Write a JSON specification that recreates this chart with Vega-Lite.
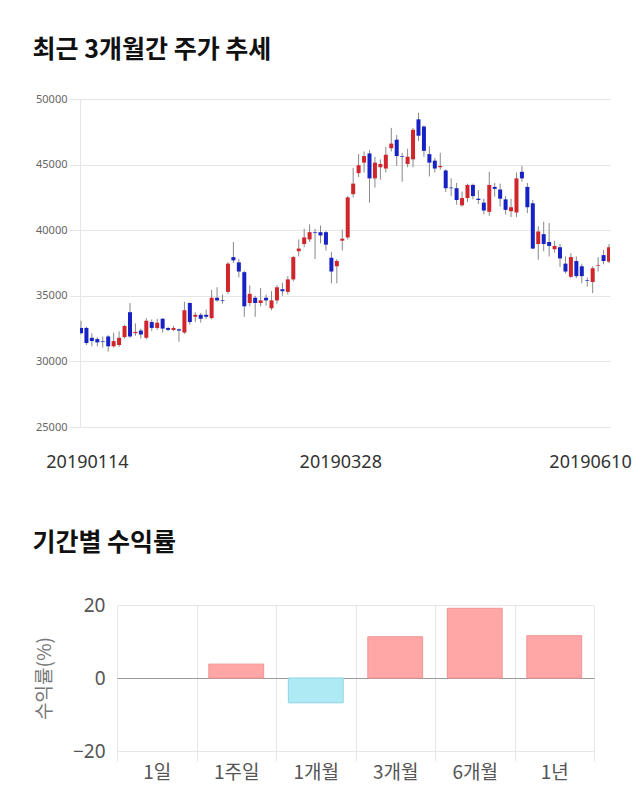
{
"$schema": "https://vega.github.io/schema/vega-lite/v6.json",
"background": "white",
"padding": {"left": 32, "top": 38, "right": 0, "bottom": 0},
"config": {"view": {"stroke": null}, "font": "Noto Sans CJK KR"},
"spacing": 60,
"vconcat": [
{
"title": {"text": "최근 3개월간 주가 추세", "anchor": "start", "frame": "bounds", "fontSize": 25, "fontWeight": "bold", "color": "#111", "offset": 30, "font": "Noto Sans CJK KR", "dx": -3},
"width": 530, "height": 328,
"data": {"values": [
{"date":"20190114","open":32550,"close":32150,"high":33100,"low":32050},
{"date":"20190115","open":32550,"close":31400,"high":32650,"low":31250},
{"date":"20190116","open":31800,"close":31550,"high":32150,"low":31150},
{"date":"20190117","open":31700,"close":31450,"high":31850,"low":31150},
{"date":"20190118","open":31550,"close":31500,"high":31900,"low":31050},
{"date":"20190121","open":31900,"close":31150,"high":32000,"low":30750},
{"date":"20190122","open":31150,"close":31550,"high":32200,"low":31050},
{"date":"20190123","open":31250,"close":31800,"high":32300,"low":31100},
{"date":"20190124","open":31850,"close":32700,"high":32800,"low":31750},
{"date":"20190125","open":33750,"close":31900,"high":34450,"low":31800},
{"date":"20190128","open":32150,"close":32250,"high":32900,"low":31950},
{"date":"20190129","open":32350,"close":32050,"high":32500,"low":31750},
{"date":"20190130","open":31800,"close":33100,"high":33300,"low":31700},
{"date":"20190131","open":33000,"close":32550,"high":33200,"low":32300},
{"date":"20190207","open":32550,"close":32950,"high":33250,"low":32400},
{"date":"20190208","open":33250,"close":32500,"high":33300,"low":32200},
{"date":"20190211","open":32550,"close":32400,"high":32600,"low":32300},
{"date":"20190212","open":32400,"close":32550,"high":32700,"low":32300},
{"date":"20190213","open":32450,"close":32350,"high":32500,"low":31500},
{"date":"20190214","open":32200,"close":33900,"high":34550,"low":32100},
{"date":"20190215","open":34450,"close":33000,"high":34500,"low":32800},
{"date":"20190218","open":33400,"close":33550,"high":33750,"low":33000},
{"date":"20190219","open":33550,"close":33250,"high":33700,"low":32950},
{"date":"20190220","open":33550,"close":33400,"high":33950,"low":33250},
{"date":"20190221","open":33300,"close":34850,"high":35450,"low":33200},
{"date":"20190222","open":34850,"close":34650,"high":35650,"low":34550},
{"date":"20190225","open":34650,"close":34600,"high":35100,"low":34400},
{"date":"20190226","open":35300,"close":37450,"high":37550,"low":35150},
{"date":"20190227","open":37950,"close":37700,"high":39100,"low":37500},
{"date":"20190228","open":37550,"close":36850,"high":37800,"low":36400},
{"date":"20190304","open":36800,"close":34200,"high":36900,"low":33400},
{"date":"20190305","open":34450,"close":35150,"high":35800,"low":34200},
{"date":"20190306","open":34850,"close":34450,"high":35000,"low":33400},
{"date":"20190307","open":34450,"close":34650,"high":35600,"low":34200},
{"date":"20190308","open":34850,"close":34650,"high":35100,"low":34250},
{"date":"20190311","open":34050,"close":34650,"high":35350,"low":33900},
{"date":"20190312","open":34650,"close":35650,"high":35800,"low":34400},
{"date":"20190313","open":35500,"close":35350,"high":36000,"low":35000},
{"date":"20190314","open":35300,"close":36250,"high":36500,"low":35100},
{"date":"20190315","open":36250,"close":37950,"high":38050,"low":36100},
{"date":"20190318","open":38400,"close":38600,"high":39300,"low":38000},
{"date":"20190319","open":38950,"close":39450,"high":40100,"low":38700},
{"date":"20190320","open":39300,"close":39850,"high":40450,"low":39100},
{"date":"20190321","open":39850,"close":39800,"high":40100,"low":37800},
{"date":"20190322","open":39850,"close":39600,"high":40350,"low":39000},
{"date":"20190325","open":39850,"close":38900,"high":39950,"low":38450},
{"date":"20190326","open":37900,"close":36850,"high":38350,"low":35950},
{"date":"20190327","open":37250,"close":37650,"high":37800,"low":35950},
{"date":"20190328","open":39200,"close":39350,"high":40050,"low":38450},
{"date":"20190329","open":39450,"close":42500,"high":42600,"low":39300},
{"date":"20190401","open":42750,"close":43550,"high":44750,"low":42500},
{"date":"20190402","open":44350,"close":44950,"high":45800,"low":44050},
{"date":"20190403","open":45150,"close":45650,"high":46000,"low":44400},
{"date":"20190404","open":45850,"close":43950,"high":46100,"low":42100},
{"date":"20190405","open":43950,"close":45150,"high":45600,"low":43250},
{"date":"20190408","open":44800,"close":45050,"high":45400,"low":43850},
{"date":"20190409","open":44700,"close":45750,"high":46350,"low":44400},
{"date":"20190410","open":46250,"close":46600,"high":47800,"low":46000},
{"date":"20190411","open":46900,"close":45650,"high":47250,"low":44900},
{"date":"20190412","open":45650,"close":45600,"high":45900,"low":43700},
{"date":"20190415","open":45050,"close":45600,"high":46200,"low":44800},
{"date":"20190416","open":45400,"close":47650,"high":47800,"low":44800},
{"date":"20190417","open":48450,"close":47200,"high":48950,"low":46800},
{"date":"20190418","open":47900,"close":46050,"high":48000,"low":45600},
{"date":"20190419","open":45800,"close":45150,"high":46400,"low":44100},
{"date":"20190422","open":45300,"close":44700,"high":45500,"low":44400},
{"date":"20190423","open":44800,"close":44900,"high":45900,"low":44600},
{"date":"20190424","open":44550,"close":43200,"high":44650,"low":42900},
{"date":"20190425","open":43250,"close":43200,"high":43950,"low":42600},
{"date":"20190426","open":43200,"close":42300,"high":43600,"low":41950},
{"date":"20190429","open":41900,"close":42450,"high":42950,"low":41800},
{"date":"20190430","open":42450,"close":43450,"high":43550,"low":42150},
{"date":"20190502","open":43450,"close":42600,"high":43550,"low":42350},
{"date":"20190503","open":42400,"close":42300,"high":43050,"low":42000},
{"date":"20190507","open":42100,"close":41500,"high":42400,"low":41200},
{"date":"20190508","open":41400,"close":43450,"high":44450,"low":41100},
{"date":"20190509","open":43300,"close":43150,"high":43600,"low":42550},
{"date":"20190510","open":43100,"close":42400,"high":43550,"low":41800},
{"date":"20190513","open":42350,"close":41550,"high":42600,"low":41200},
{"date":"20190514","open":41450,"close":41750,"high":42400,"low":41000},
{"date":"20190515","open":41350,"close":43950,"high":44400,"low":41000},
{"date":"20190516","open":44450,"close":43950,"high":44900,"low":43700},
{"date":"20190517","open":43300,"close":41750,"high":43600,"low":41300},
{"date":"20190520","open":42050,"close":38600,"high":42300,"low":38550},
{"date":"20190521","open":38950,"close":39900,"high":40300,"low":37750},
{"date":"20190522","open":39700,"close":38950,"high":40650,"low":38400},
{"date":"20190523","open":39100,"close":38800,"high":40550,"low":38000},
{"date":"20190524","open":38550,"close":38800,"high":39200,"low":38300},
{"date":"20190527","open":38700,"close":37850,"high":38950,"low":37200},
{"date":"20190528","open":37450,"close":36850,"high":38000,"low":36700},
{"date":"20190529","open":36450,"close":37950,"high":38250,"low":36350},
{"date":"20190530","open":37650,"close":36500,"high":38000,"low":36350},
{"date":"20190531","open":37250,"close":36500,"high":37450,"low":35950},
{"date":"20190603","open":36200,"close":36150,"high":36400,"low":35700},
{"date":"20190604","open":36050,"close":37100,"high":37250,"low":35200},
{"date":"20190605","open":37300,"close":37350,"high":37950,"low":36850},
{"date":"20190607","open":38100,"close":37650,"high":38500,"low":37400},
{"date":"20190610","open":37600,"close":38700,"high":38950,"low":37500}
]},
"encoding": {
"x": {"field": "date", "type": "ordinal", "scale": {"type": "point", "padding": 0.18},
"axis": {"title": null, "values": ["20190114", "20190328", "20190610"], "labelAngle": 0, "ticks": false, "domain": false, "grid": false, "labelFontSize": 18, "labelColor": "#333", "labelPadding": 26, "labelFont": "Noto Sans",
"labelOffset": {"condition": [{"test": "datum.value == 20190114", "value": 6}, {"test": "datum.value == 20190610", "value": -19}], "value": -2}}}
},
"layer": [
{"mark": {"type": "rule", "color": "#888", "strokeWidth": 1, "clip": true},
"encoding": {
"y": {"field": "low", "type": "quantitative", "scale": {"domain": [25000, 50000], "nice": false, "zero": false},
"axis": {"title": null, "values": [25000, 30000, 35000, 40000, 45000, 50000], "format": "d", "grid": true, "gridColor": "#e6e6e6", "tickColor": "#e6e6e6", "tickSize": 11, "domain": true, "domainColor": "#e6e6e6", "labelFontSize": 11, "labelColor": "#666", "labelPadding": 2, "labelFont": "Noto Sans"}},
"y2": {"field": "high"}}},
{"mark": {"type": "bar", "width": 4, "clip": true},
"encoding": {
"y": {"field": "open", "type": "quantitative"},
"y2": {"field": "close"},
"color": {"condition": {"test": "datum.close >= datum.open", "value": "#d0262b"}, "value": "#1722c4"}}}
]
},
{
"title": {"text": "기간별 수익률", "anchor": "start", "frame": "bounds", "fontSize": 25, "fontWeight": "bold", "color": "#111", "offset": 40, "font": "Noto Sans CJK KR", "dx": -3},
"width": 514, "height": 146,
"data": {"values": [
{"period": "1일", "value": 0},
{"period": "1주일", "value": 3.8},
{"period": "1개월", "value": -6.8},
{"period": "3개월", "value": 11.3},
{"period": "6개월", "value": 19.1},
{"period": "1년", "value": 11.6}
]},
"mark": {"type": "bar", "width": {"band": 0.69}, "strokeWidth": 1},
"encoding": {
"x": {"field": "period", "type": "nominal", "sort": null, "scale": {"paddingInner": 0, "paddingOuter": 0, "range": [37, 514]},
"axis": {"title": null, "labelAngle": 0, "tickBand": "extent", "grid": true, "gridColor": "#e6e6e6", "ticks": true, "tickSize": 10, "tickColor": "#e6e6e6", "domain": false, "labelFontSize": 19, "labelColor": "#555", "labelPadding": 2, "labelFont": "Noto Sans CJK KR"}},
"y": {"field": "value", "type": "quantitative", "scale": {"domain": [-20, 20], "nice": false},
"axis": {"title": "수익률(%)", "offset": -37, "values": [-20, 0, 20], "grid": true, "gridColor": {"condition": {"test": "datum.value === 0", "value": "#999"}, "value": "#e6e6e6"}, "ticks": false, "domain": false, "labelFontSize": 19, "labelColor": "#555", "labelPadding": 12, "labelFont": "Noto Sans", "titleFontSize": 19, "titleFontWeight": "normal", "titleColor": "#777", "titlePadding": 18, "titleFont": "Noto Sans CJK KR"}},
"color": {"condition": {"test": "datum.value >= 0", "value": "#ffa6a6"}, "value": "#aeeaf3"},
"stroke": {"condition": [{"test": "datum.value > 0", "value": "#f29494"}, {"test": "datum.value < 0", "value": "#8fd3e3"}], "value": "transparent"}
}
}
]
}
